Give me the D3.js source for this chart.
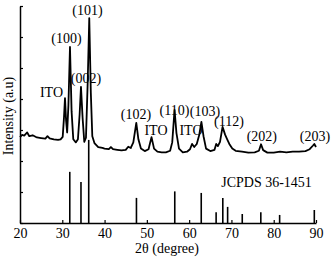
<!DOCTYPE html>
<html>
<head>
<meta charset="utf-8">
<script src="https://cdn.jsdelivr.net/npm/d3@7"></script>
<style>
  body { margin: 0; background: #fff; }
  text { font-family: "Liberation Serif", "Times New Roman", serif; }
</style>
</head>
<body>
<svg id="chart"></svg>
<script>
// XRD pattern (2theta, intensity in arbitrary units)
var twoTheta = [20.0, 20.5, 21.0, 21.7, 22.2, 23, 24, 25, 26, 26.5, 27, 28, 29, 29.6, 30.1, 30.4, 30.64, 30.9, 31.15, 31.45, 31.82, 32.2, 32.6, 33.2, 33.7, 34.1, 34.42, 34.8, 35.2, 35.6, 36.0, 36.38, 36.75, 37.1, 37.6, 38.5, 39.5, 40, 41, 41.5, 42, 43, 44, 45, 45.6, 46.2, 46.8, 47.5, 48.0, 48.6, 49.5, 50.4, 51.1, 51.7, 52.5, 53.5, 54.5, 55.5, 56.0, 56.55, 57.0, 57.6, 58.5, 59.5, 60.2, 60.7, 61.2, 61.8, 62.4, 62.9, 63.4, 64.0, 65, 66, 66.4, 66.8, 67.3, 67.9, 68.5, 69.0, 69.5, 70.2, 71, 72.5, 74, 75.5, 76.5, 77.0, 77.5, 78.5, 80, 81.5, 83, 84.5, 86, 87.5, 88.5, 89.3, 89.6, 90];
var intensity = [2.77, 2.84, 2.82, 2.92, 2.80, 2.83, 2.76, 2.74, 2.72, 2.80, 2.73, 2.70, 2.68, 2.70, 2.78, 3.40, 4.03, 3.30, 2.92, 3.80, 5.68, 3.60, 2.70, 2.60, 2.70, 3.50, 4.39, 3.40, 2.62, 2.75, 4.50, 6.61, 4.20, 2.80, 2.58, 2.45, 2.42, 2.40, 2.38, 2.45, 2.38, 2.36, 2.34, 2.36, 2.46, 2.42, 2.60, 3.23, 2.70, 2.40, 2.32, 2.38, 2.77, 2.40, 2.30, 2.28, 2.28, 2.33, 2.60, 3.65, 2.90, 2.40, 2.28, 2.30, 2.38, 2.55, 2.45, 2.55, 2.85, 3.26, 2.80, 2.40, 2.32, 2.36, 2.55, 2.48, 2.62, 3.10, 2.85, 2.70, 2.55, 2.40, 2.33, 2.30, 2.27, 2.28, 2.33, 2.54, 2.35, 2.27, 2.27, 2.30, 2.28, 2.30, 2.30, 2.32, 2.38, 2.50, 2.55, 2.45];

// JCPDS 36-1451 reference lines
var stickPos = [31.77, 34.42, 36.25, 47.54, 56.6, 62.86, 66.38, 67.96, 69.1, 72.56, 76.95, 81.4, 89.6];
var stickHeight = [1.65, 1.32, 2.68, 0.81, 1.02, 0.97, 0.35, 0.81, 0.52, 0.29, 0.35, 0.26, 0.42];

// peak labels
var labelText = ["(101)", "(100)", "(002)", "ITO", "(102)", "ITO", "(110)", "ITO", "(103)", "(112)", "(202)", "(203)"];
var labelX = [35.96, 31.0, 35.6, 27.45, 47.43, 52.16, 56.53, 60.43, 63.75, 69.42, 77.2, 89.75];
var labelY = [6.71, 5.81, 4.52, 4.06, 3.35, 2.84, 3.48, 2.84, 3.45, 3.13, 2.65, 2.65];

var xTicks = [20, 30, 40, 50, 60, 70, 80, 90];
var yTicks = [0, 1, 2, 3, 4, 5, 6, 7];

var W = 332, H = 259;
var margin = { top: 6, right: 16, bottom: 36, left: 20 };

var svg = d3.select("#chart").attr("width", W).attr("height", H);

var x = d3.scaleLinear().domain([20, 90]).range([margin.left, W - margin.right]);
var y = d3.scaleLinear().domain([0, 7]).range([H - margin.bottom, margin.top]);

// sticks
svg.append("g")
  .selectAll("line")
  .data(stickPos)
  .join("line")
  .attr("x1", d => x(d))
  .attr("x2", d => x(d))
  .attr("y1", y(0))
  .attr("y2", (d, i) => y(stickHeight[i]))
  .attr("stroke", "#000")
  .attr("stroke-width", 1.6);

// pattern curve
var pts = twoTheta.map((d, i) => [d, intensity[i]]);
var line = d3.line().x(d => x(d[0])).y(d => y(d[1]));
svg.append("path")
  .datum(pts)
  .attr("fill", "none")
  .attr("stroke", "#000")
  .attr("stroke-width", 1.8)
  .attr("stroke-linejoin", "round")
  .attr("d", line);

// axes
var xAxis = svg.append("g")
  .attr("transform", "translate(0," + y(0) + ")")
  .call(d3.axisBottom(x).tickValues(xTicks).tickSizeInner(-3).tickSizeOuter(0).tickPadding(5));
xAxis.selectAll("text").style("font-size", "14px").attr("fill", "#000")
  .style("font-family", "'Liberation Serif', 'Times New Roman', serif");

var yAxis = svg.append("g")
  .attr("transform", "translate(" + x(20) + ",0)")
  .call(d3.axisLeft(y).tickValues(yTicks).tickSizeInner(-3).tickSizeOuter(0).tickFormat(""));

svg.selectAll(".domain").attr("stroke", "#000").attr("stroke-width", 1.5);
svg.selectAll(".tick line").attr("stroke", "#000").attr("stroke-width", 1.2);

// peak labels
svg.append("g")
  .selectAll("text")
  .data(labelText)
  .join("text")
  .attr("x", (d, i) => x(labelX[i]))
  .attr("y", (d, i) => y(labelY[i]))
  .attr("text-anchor", "middle")
  .style("font-size", "14px")
  .text(d => d);

svg.append("text")
  .attr("x", x(78.3))
  .attr("y", y(1.16))
  .attr("text-anchor", "middle")
  .style("font-size", "14px")
  .text("JCPDS 36-1451");

// axis titles
svg.append("text")
  .attr("x", 167)
  .attr("y", 253)
  .attr("text-anchor", "middle")
  .style("font-size", "14px")
  .text("2θ (degree)");

svg.append("text")
  .attr("transform", "translate(13,116) rotate(-90)")
  .attr("text-anchor", "middle")
  .style("font-size", "14px")
  .text("Intensity (a.u)");
</script>
</body>
</html>
